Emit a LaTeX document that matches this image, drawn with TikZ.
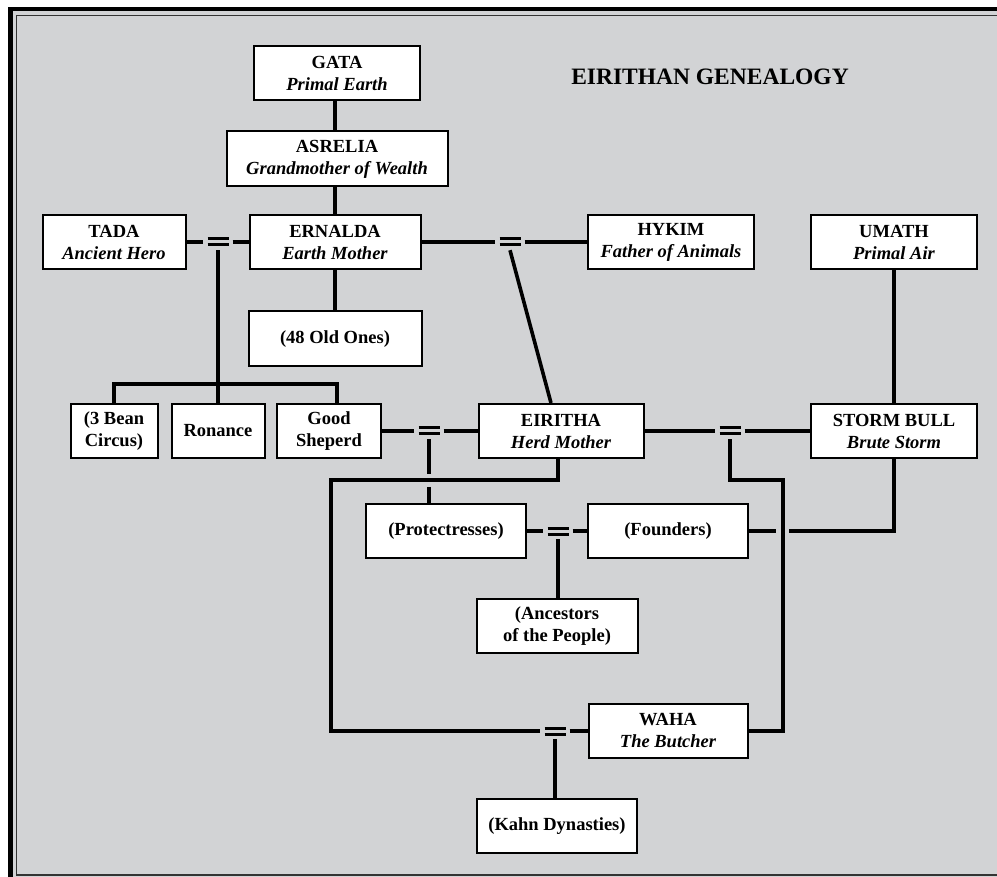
\documentclass[tikz,border=0pt]{standalone}
\usepackage{fontspec}
\setmainfont{Liberation Serif}
\definecolor{bggray}{RGB}{210,211,213}

\begin{document}
\begin{tikzpicture}[x=1pt, y=-1pt,
    person/.style={draw, fill=white, line width=2pt, align=center, minimum height=54pt,
      inner sep=2pt, font=\fontsize{18.5}{22}\selectfont\bfseries},
    marriage/.style={inner sep=0pt, minimum width=29pt, minimum height=16pt, path picture={
      \draw[line width=3pt] ([xshift=4pt,yshift=3pt]path picture bounding box.west) -- ([xshift=-4pt,yshift=3pt]path picture bounding box.east);
      \draw[line width=3pt] ([xshift=4pt,yshift=-3pt]path picture bounding box.west) -- ([xshift=-4pt,yshift=-3pt]path picture bounding box.east);}},
    link/.style={line width=3.6pt}]

  \useasboundingbox (0,0) rectangle (997,877);
  \clip (0,0) rectangle (997,877);

  % frame
  \fill[white] (0,0) rectangle (997,877);
  \fill[bggray] (10.5,9) rectangle (1020,900);
  \draw[line width=4.8pt] (10.5,9) rectangle (1020,900);
  \draw[line width=1.6pt, black!80] (16.5,15.5) rectangle (1005,875);

  \node[font=\fontsize{23.5}{28}\selectfont\bfseries] (title) at (710,77) {EIRITHAN GENEALOGY};

  % the gods
  \node [person, minimum width=166pt] (gata) at (337,73) {GATA\\{\itshape Primal Earth}};
  \node [person, minimum width=221pt, minimum height=55pt] (asrelia) at (337,159) {ASRELIA\\{\itshape Grandmother of Wealth}};
  \node [person, minimum width=143pt] (tada) at (114,242) {TADA\\{\itshape Ancient Hero}};
  \node [person, minimum width=171pt] (ernalda) at (335,242) {ERNALDA\\{\itshape Earth Mother}};
  \node [person, minimum width=166pt] (hykim) at (671,242) {HYKIM\\{\itshape Father of Animals}};
  \node [person, minimum width=166pt] (umath) at (894,242) {UMATH\\{\itshape Primal Air}};
  \node [person, minimum width=173pt, minimum height=55pt] (old) at (335,339) {(48 Old Ones)};
  \node [person, minimum width=87pt] (bean) at (114,431) {(3 Bean\\Circus)};
  \node [person, minimum width=93pt] (ronance) at (218,431) {Ronance};
  \node [person, minimum width=104pt] (good) at (329,431) {Good\\Sheperd};
  \node [person, minimum width=165pt] (eiritha) at (561,431) {EIRITHA\\{\itshape Herd Mother}};
  \node [person, minimum width=166pt] (storm) at (894,431) {STORM BULL\\{\itshape Brute Storm}};
  \node [person, minimum width=160pt] (protect) at (446,531) {(Protectresses)};
  \node [person, minimum width=160pt] (founders) at (668,531) {(Founders)};
  \node [person, minimum width=161pt] (ancestors) at (557,626) {(Ancestors\\of the People)};
  \node [person, minimum width=159pt] (waha) at (668,731) {WAHA\\{\itshape The Butcher}};
  \node [person, minimum width=160pt] (kahn) at (557,826) {(Kahn Dynasties)};

  % marriages
  \node [marriage] (m1) at (218,242) {};
  \node [marriage] (m2) at (510,242) {};
  \node [marriage] (m3) at (429,431) {};
  \node [marriage] (m5) at (730,431) {};
  \node [marriage] (m6) at (558,531) {};
  \node [marriage] (m4) at (555,731) {};

  \coordinate (ld) at (331,480);
  \coordinate (rd) at (783,480);
  \coordinate (bar) at (218,384);
  \coordinate (x1) at (m3 |- ld);
  \coordinate (x2) at (rd |- founders.east);

  % connections
  \draw[link] (gata.south -| old.north) -- (asrelia.north -| old.north);
  \draw[link] (asrelia.south -| old.north) -- (ernalda.north);
  \draw[link] (ernalda.south) -- (old.north);
  \draw[link] (tada.east) -- (m1.west);
  \draw[link] (m1.east) -- (ernalda.west);
  \draw[link] (m1.south) -- (ronance.north);
  \draw[link] (bean.north) |- (bar) -| ([xshift=8pt]good.north);
  \draw[link] (ernalda.east) -- (m2.west);
  \draw[link] (m2.east) -- (hykim.west);
  \draw[link] (m2.south) -- ([xshift=-10pt]eiritha.north);
  \draw[link] (umath.south) -- (storm.north);
  \draw[link] (good.east) -- (m3.west);
  \draw[link] (m3.east) -- (eiritha.west);
  \draw[link] (eiritha.east) -- (m5.west);
  \draw[link] (m5.east) -- (storm.west);
  \draw[link] (m5.south) |- (rd) |- (waha.east);
  \draw[link] ([xshift=-3pt]eiritha.south) |- (ld) |- (m4.west);
  \draw[link] (m4.east) -- (waha.west);
  \draw[link] (m4.south) -- (m4 |- kahn.north);
  \draw[link] (m3.south) -- ([yshift=6pt]x1);
  \draw[link] ([yshift=-7pt]x1) -- (m3 |- protect.north);
  \draw[link] (protect.east) -- (m6.west);
  \draw[link] (m6.east) -- (founders.west);
  \draw[link] (m6.south) -- (m6 |- ancestors.north);
  \draw[link] (founders.east) -- ([xshift=-7pt]x2);
  \draw[link] ([xshift=6pt]x2) -| (storm.south);
\end{tikzpicture}
\end{document}
